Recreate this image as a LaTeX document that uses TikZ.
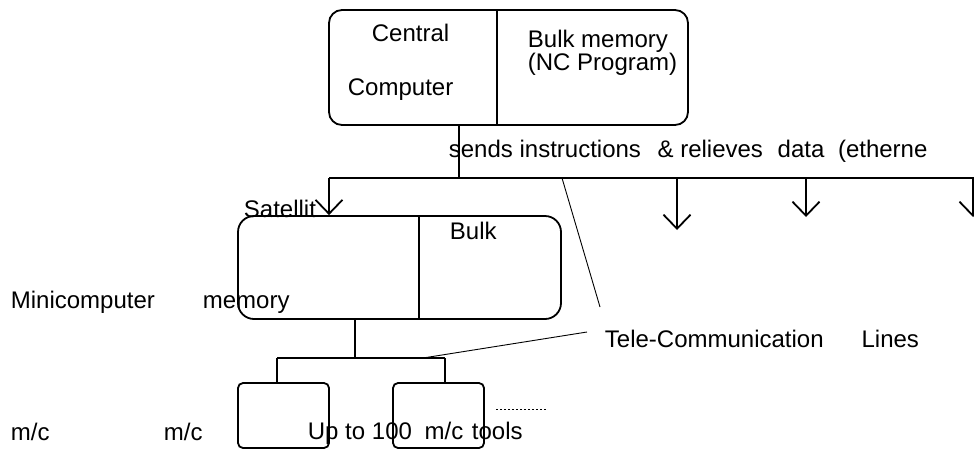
\documentclass[tikz,border=0pt]{standalone}
\usepackage{fontspec}
\setmainfont{Liberation Sans}
\usetikzlibrary{arrows.meta, positioning}

\begin{document}
\begin{tikzpicture}[x=0.5pt, y=-0.5pt, line width=0.9pt,
    unit/.style={draw, rounded corners=6.5pt, inner sep=0pt},
    mc/.style={draw, rounded corners=2.5pt, minimum width=45.5pt, minimum height=32.5pt, inner sep=0pt},
    txt/.style={anchor=base west, inner sep=0pt, font=\fontsize{12}{14}\selectfont},
    tip/.style={-{Straight Barb[length=7pt, width=13.5pt]}},
    tele/.style={line width=0.45pt}]
    \useasboundingbox (0,0) rectangle (974,450);
    %Central computer
    \node[unit, minimum width=179.5pt, minimum height=57.5pt] (central) at (508.5,67.5) {};
    \coordinate (cdiv) at (497,0);
    \draw (central.north -| cdiv) -- (central.south -| cdiv);
    \node[txt] (cen) at (371,41) {Central};
    \node[txt] (comp) at (347,95) {Computer};
    \node[txt] (bulk) at (527,47) {Bulk memory};
    \node[txt] (ncprog) at (527,70) {(NC Program)};
    %Satellite
    \node[unit, rounded corners=8pt, minimum width=161.5pt, minimum height=51.5pt] (sat) at (399.5,267.5) {};
    \coordinate (sdiv) at (419,0);
    \draw (sat.north -| sdiv) -- (sat.south -| sdiv);
    %Machines
    \node[mc] (mc1) at (283.5,415.5) {};
    \node[mc] (mc2) at (438.5,415.5) {};
    %Bus
    \coordinate (stem) at (459,178);
    \coordinate (busL) at (329,178);
    \coordinate (busR) at (974,178);
    \draw (central.south -| stem) -- (stem);
    \draw (busL) -- (busR);
    \draw[tip] (busL) -- (sat.north -| busL);
    \foreach \x/\y [count=\i] in {677/230, 806/217, 973/217}{
        \coordinate (tap\i) at (\x,178);
        \coordinate (end\i) at (\x,\y);
        \draw[tip] (tap\i) -- (end\i);
    }
    %Sub bus
    \coordinate (sstem) at (355,358);
    \coordinate (subL) at (277,358);
    \coordinate (subR) at (445,358);
    \draw (sat.south -| sstem) -- (sstem);
    \draw (subL) -- (subR);
    \draw (subL) -- (mc1.north -| subL);
    \draw (subR) -- (mc2.north -| subR);
    %Tele lines
    \node[txt] (telecom) at (604,347) {Tele-Communication\hspace{19pt}Lines};
    \coordinate (t1) at (562,178);
    \coordinate (t1e) at (600,307);
    \coordinate (t2) at (423,358);
    \coordinate (t2e) at (587,332);
    \draw[tele] (t1) -- (t1e);
    \draw[tele] (t2) -- (t2e);
    \coordinate (dots1) at (496,409);
    \coordinate (dots2) at (548,409);
    \draw[line width=0.4pt, dash pattern=on 1pt off 1pt] (dots1) -- (dots2);
    %Labels
    \node[txt] (sends) at (448,157) {sends instructions\hspace{5pt} \& relieves\hspace{4pt} data\hspace{3.5pt} (etherne};
    \node[txt] (satl) at (243,217) {Satellit};
    \node[txt] (bulk2) at (449,239) {Bulk};
    \node[txt] (mini) at (10,308) {Minicomputer};
    \node[txt] (mem) at (202,308) {memory};
    \node[txt] (mc1l) at (10,440) {m/c};
    \node[txt] (mc2l) at (163,440) {m/c};
    \node[txt] (upto) at (307,439) {Up to 100\hspace{3pt} m/c\hspace{1pt} tools};
\end{tikzpicture}
\end{document}
